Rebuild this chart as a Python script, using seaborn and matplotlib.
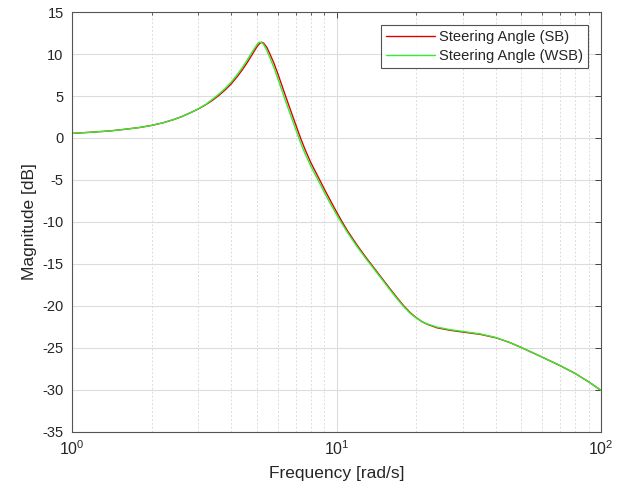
import numpy as np
import pandas as pd
import matplotlib
matplotlib.use("Agg")
import matplotlib.pyplot as plt
import matplotlib.ticker as mticker
import seaborn as sns

# Frequency response magnitude of the steering angle (rad/s, dB)
freq = [1.0, 1.2, 1.4, 1.6, 1.8, 2.0, 2.2, 2.4, 2.6, 2.8,
        3.0, 3.2, 3.4, 3.6, 3.8, 4.0, 4.2, 4.4, 4.6, 4.8,
        5.0, 5.1, 5.2, 5.3, 5.45, 5.6, 5.8,
        6.0, 6.2, 6.4, 6.6, 6.8,
        7.0, 7.3, 7.6, 8.0, 8.64, 9.0, 9.5,
        10, 10.44, 11, 12, 13, 13.63, 14, 15, 16, 17, 17.95,
        19, 20, 21, 22, 24, 27, 30, 35, 40, 45, 50, 55, 60, 70, 80, 90, 100]

mag_sb = [0.55, 0.7, 0.85, 1.05, 1.25, 1.5, 1.8, 2.15, 2.55, 3.0,
          3.45, 3.95, 4.5, 5.1, 5.75, 6.45, 7.25, 8.1, 9.0, 9.95,
          10.85, 11.2, 11.4, 11.3, 10.8, 10.0, 8.9,
          7.65, 6.35, 5.1, 3.9, 2.75,
          1.65, 0.05, -1.35, -2.95, -5.0, -6.1, -7.5,
          -8.8, -9.85, -11.05, -12.83, -14.33, -15.17, -15.65, -16.88, -18.03, -19.08, -19.98,
          -20.8, -21.38, -21.85, -22.17, -22.6, -22.9, -23.1, -23.38, -23.78, -24.33, -24.95, -25.55, -26.1, -27.1, -28.05, -29.05, -30.05]

mag_wsb = [0.55, 0.7, 0.85, 1.05, 1.25, 1.5, 1.8, 2.15, 2.55, 3.0,
           3.47, 3.99, 4.62, 5.25, 5.93, 6.66, 7.49, 8.37, 9.3, 10.25,
           11.12, 11.4, 11.38, 11.15, 10.45, 9.55, 8.38,
           7.06, 5.76, 4.51, 3.32, 2.18,
           1.09, -0.5, -1.85, -3.38, -5.4, -6.5, -7.88,
           -9.1, -10.1, -11.25, -13.0, -14.48, -15.3, -15.78, -17.0, -18.16, -19.2, -20.08,
           -20.88, -21.42, -21.85, -22.13, -22.52, -22.83, -23.03, -23.33, -23.75, -24.33, -24.95, -25.55, -26.1, -27.1, -28.05, -29.05, -30.05]

labels = ["Steering Angle (SB)", "Steering Angle (WSB)"]
colors = ["#e00000", "#33ee33"]

df = pd.concat([
    pd.DataFrame({"freq": freq, "mag": mag_sb, "series": labels[0]}),
    pd.DataFrame({"freq": freq, "mag": mag_wsb, "series": labels[1]}),
])

sns.set_style("white")
plt.rcParams["font.family"] = ["Liberation Sans", "DejaVu Sans"]
plt.rcParams["mathtext.fontset"] = "custom"
plt.rcParams["mathtext.rm"] = "Liberation Sans"
plt.rcParams["mathtext.it"] = "Liberation Sans:italic"
plt.rcParams["axes.unicode_minus"] = False

fig = plt.figure(figsize=(6.24, 4.90), dpi=100)
ax = fig.add_axes([0.1154, 0.1184, 0.8478, 0.8571])

sns.lineplot(data=df, x="freq", y="mag", hue="series", palette=colors,
             linewidth=1.0, ax=ax, sort=False, estimator=None)

ax.set_xscale("log")
ax.set_xlim(1, 100)
ax.set_ylim(-35, 15)
ax.yaxis.set_major_locator(mticker.MultipleLocator(5))
ax.xaxis.set_major_locator(mticker.LogLocator(base=10))
ax.xaxis.set_minor_locator(mticker.LogLocator(base=10, subs=np.arange(2, 10)))
ax.xaxis.set_minor_formatter(mticker.NullFormatter())

ax.grid(True, which="major", color="#dcdcdc", linewidth=0.8, linestyle="-")
ax.grid(True, which="minor", axis="x", color="#dcdcdc", linewidth=0.7, linestyle=(0, (2, 2)))
ax.set_axisbelow(True)

ax.tick_params(which="both", direction="in", top=True, right=True,
               colors="#404040", labelcolor="#262626", labelsize=10.5)
ax.tick_params(which="major", length=4, width=0.7)
ax.tick_params(which="minor", length=2.5, width=0.6)
ax.tick_params(axis="y", which="major", pad=6)
ax.tick_params(axis="x", which="major", pad=5, labelsize=11.5)
for s in ax.spines.values():
    s.set_color("#555555")
    s.set_linewidth(0.8)

ax.set_xlabel("Frequency [rad/s]", fontsize=12.5, color="#262626", labelpad=6)
ax.set_ylabel("Magnitude [dB]", fontsize=12.5, color="#262626", labelpad=4)

leg = ax.legend(loc="upper right", fontsize=10.6, handlelength=3.3, handletextpad=0.25,
                borderaxespad=0.9, frameon=True, fancybox=False, borderpad=0.35,
                labelspacing=0.3)
leg.get_frame().set_edgecolor("#262626")
leg.get_frame().set_linewidth(0.8)
for t in leg.get_texts():
    t.set_color("#262626")

fig.savefig("out.png", dpi=100, facecolor="white")
